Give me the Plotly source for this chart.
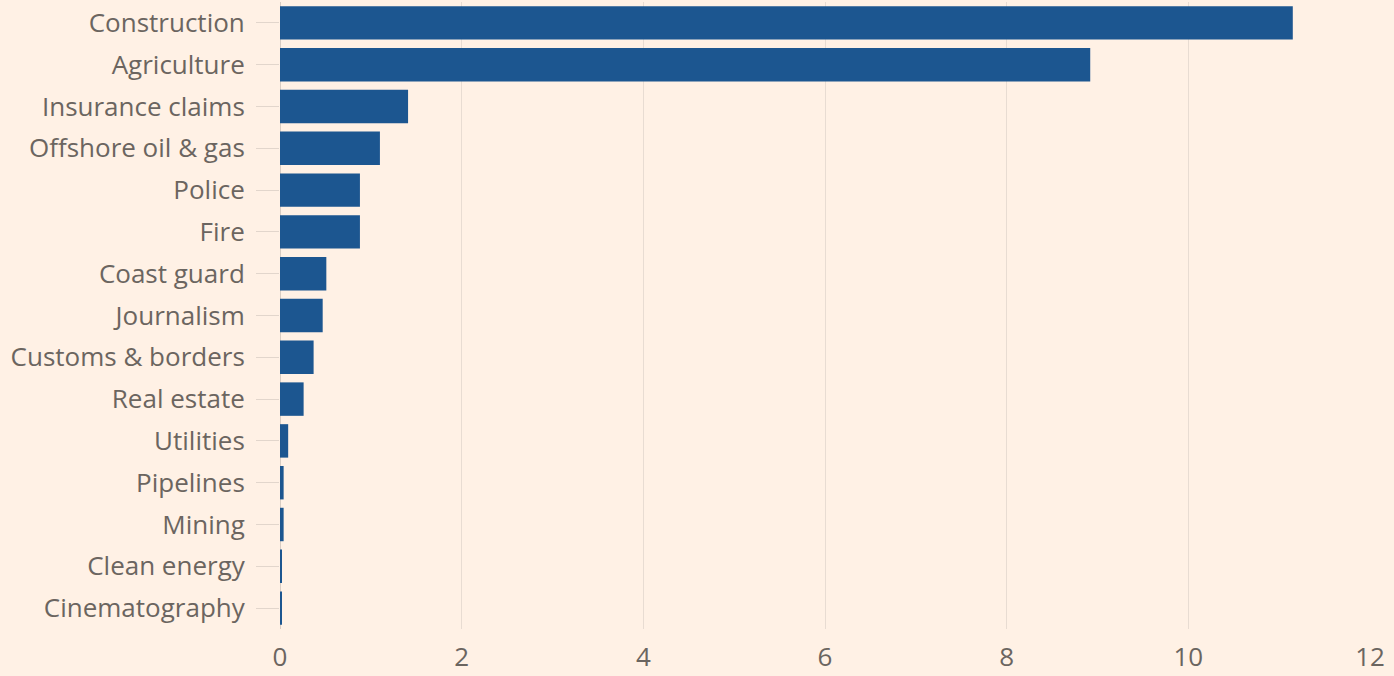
import plotly.graph_objects as go

categories = ["Construction", "Agriculture", "Insurance claims", "Offshore oil & gas",
              "Police", "Fire", "Coast guard", "Journalism", "Customs & borders",
              "Real estate", "Utilities", "Pipelines", "Mining", "Clean energy",
              "Cinematography"]
values = [11.15, 8.92, 1.41, 1.10, 0.88, 0.88, 0.51, 0.47, 0.37, 0.26, 0.09,
          0.04, 0.04, 0.02, 0.02]
x_ticks = [0, 2, 4, 6, 8, 10, 12]

BG = "#fff1e5"
BAR = "#1c5690"
GRID = "#e8dcd2"
TXT = "#6b6560"

fig = go.Figure(go.Bar(
    x=values, y=categories, orientation="h",
    marker=dict(color=BAR, line=dict(width=0)),
))

fig.update_layout(
    width=1394, height=676,
    paper_bgcolor=BG, plot_bgcolor=BG,
    margin=dict(l=280, r=24, t=2, b=36),
    bargap=0.2,
    showlegend=False,
    font=dict(family="Open Sans, Lato, sans-serif", color=TXT, size=26),
)
fig.update_xaxes(
    range=[0, 12], tickvals=x_ticks, ticktext=[str(v) for v in x_ticks],
    showgrid=True, gridcolor=GRID, gridwidth=1,
    zeroline=True, zerolinecolor="#d8ccc2", zerolinewidth=1,
    showline=False, ticks="outside", ticklen=5, tickcolor="rgba(0,0,0,0)",
    tickfont=dict(size=26, color=TXT),
)
fig.update_yaxes(
    categoryorder="array", categoryarray=categories, autorange="reversed",
    showgrid=False, zeroline=False, showline=False,
    ticks="outside", ticklen=23, tickcolor="#e2d6cc", tickwidth=1,
    ticklabelstandoff=6,
    tickfont=dict(size=26, color=TXT),
)

fig.write_html("out.html", config={"displayModeBar": False},
               post_script="document.body.style.margin='0';document.body.style.background='%s';" % BG)
